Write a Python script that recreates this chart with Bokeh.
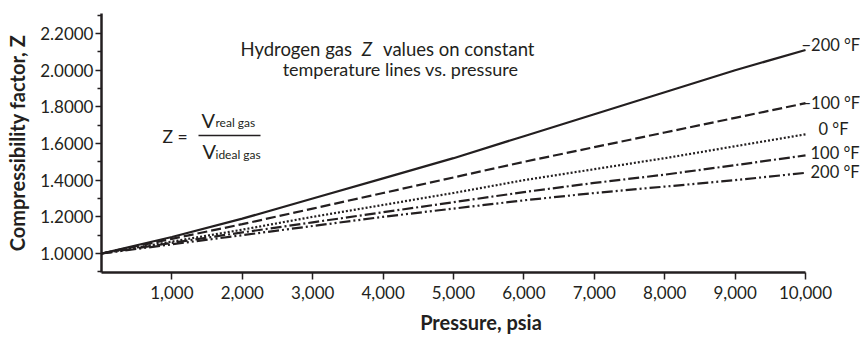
from bokeh.plotting import figure
from bokeh.models import Range1d, FixedTicker, NumeralTickFormatter, Label, BoxAnnotation
from bokeh.embed import file_html
from bokeh.resources import INLINE

# ---- data ----
pressure = [0, 1000, 2000, 3000, 4000, 5000, 6000, 7000, 8000, 9000, 10000]
z_m200 = [1.0, 1.09, 1.19, 1.30, 1.41, 1.52, 1.64, 1.76, 1.88, 2.00, 2.11]
z_m100 = [1.0, 1.08, 1.16, 1.245, 1.33, 1.415, 1.50, 1.58, 1.66, 1.74, 1.82]
z_0 = [1.0, 1.065, 1.13, 1.20, 1.265, 1.33, 1.40, 1.46, 1.52, 1.585, 1.65]
z_100 = [1.0, 1.058, 1.115, 1.17, 1.225, 1.28, 1.335, 1.385, 1.43, 1.482, 1.535]
z_200 = [1.0, 1.05, 1.10, 1.15, 1.20, 1.245, 1.29, 1.33, 1.365, 1.40, 1.44]
series_labels = ["\u2212200 \u00b0F", "\u2212100 \u00b0F", "0 \u00b0F", "100 \u00b0F", "200 \u00b0F"]
x_ticks = [1000, 2000, 3000, 4000, 5000, 6000, 7000, 8000, 9000, 10000]
y_ticks = [1.0, 1.2, 1.4, 1.6, 1.8, 2.0, 2.2]
y_minor = [0.9, 1.1, 1.3, 1.5, 1.7, 1.9, 2.1, 2.3]

INK = "#231f20"
FONT = "Lato"

# frame runs to the right edge so that the end labels are not clipped;
# the x axis itself is bounded to 0..10,000
p = figure(width=860, height=338,
           x_range=Range1d(0, 10781), y_range=Range1d(0.8963, 2.3093),
           output_backend="svg", toolbar_location=None,
           min_border_left=101, min_border_right=0,
           min_border_top=13, min_border_bottom=66)
p.outline_line_color = None
p.grid.visible = False
p.background_fill_color = "white"
p.border_fill_color = "white"

series = [z_m200, z_m100, z_0, z_100, z_200]
dashes = ["solid", "10 4", "2 2", "11 3 2 3", "11 3 2 3 2 3"]
for zs, dash in zip(series, dashes):
    p.line(pressure, zs, line_color=INK, line_width=2.2, line_dash=dash)

# line-end labels (offsets in screen px)
offsets = [(-4, 5), (-4, 0), (13, 5), (5, 2), (5, 1)]
for zs, lab, (dx, dy) in zip(series, series_labels, offsets):
    p.add_layout(Label(x=pressure[-1], y=zs[-1], x_offset=dx, y_offset=dy,
                       text=lab, text_font=FONT, text_font_size="16.5px",
                       text_color=INK, text_align="left", text_baseline="alphabetic"))

# axes
xa = p.xaxis[0]
xa.ticker = FixedTicker(ticks=x_ticks)
xa.formatter = NumeralTickFormatter(format="0,0")
xa.axis_label = "Pressure, psia"
xa.bounds = (0, 10000)
ya = p.yaxis[0]
ya.ticker = FixedTicker(ticks=y_ticks, minor_ticks=y_minor)
ya.formatter = NumeralTickFormatter(format="0.0000")
ya.axis_label = "Compressibility factor, Z"
for ax in (xa, ya):
    ax.axis_line_color = INK
    ax.axis_line_width = 2.5
    ax.major_tick_line_color = INK
    ax.major_tick_line_width = 1.5
    ax.minor_tick_line_color = INK
    ax.minor_tick_line_width = 1.5
    ax.major_tick_in = 0
    ax.minor_tick_in = 0
    ax.major_label_text_font = FONT
    ax.major_label_text_font_size = "17px"
    ax.major_label_text_color = INK
    ax.axis_label_text_font = FONT
    ax.axis_label_text_font_style = "bold"
    ax.axis_label_text_font_size = "20px"
    ax.axis_label_text_color = INK
xa.major_tick_out = 7
xa.minor_tick_out = 0
xa.major_label_standoff = 6
xa.axis_label_standoff = 8
ya.major_tick_out = 6
ya.minor_tick_out = 4
ya.major_label_standoff = 2
ya.axis_label_standoff = 8


def txt(x, y, s, size, align="left", style="normal"):
    p.add_layout(Label(x=x, y=y, x_units="screen", y_units="screen", text=s,
                       text_font=FONT, text_font_size=size, text_font_style=style,
                       text_color=INK, text_align=align, text_baseline="alphabetic"))

# title (two lines, italic Z)
txt(139, 224, "Hydrogen gas", "18.5px", "left")
txt(265.3, 224, "Z", "18.5px", "center", "italic")
txt(433, 224, "values on constant", "18.5px", "right")
txt(299, 204, "temperature lines vs. pressure", "18px", "center")

# equation Z = V_real gas / V_ideal gas
txt(61, 136, "Z =", "17.5px", "left")
txt(100, 153, "V", "20px", "left")
txt(114, 150, "real gas", "12px", "left")
p.add_layout(BoxAnnotation(left=97, right=159, bottom=136.2, top=137.8,
                           left_units="screen", right_units="screen",
                           bottom_units="screen", top_units="screen",
                           fill_color=INK, fill_alpha=1.0, line_color=None))
txt(101, 122, "V", "20px", "left")
txt(114, 118, "ideal gas", "12px", "left")

open("out.html", "w").write(file_html(p, INLINE))
